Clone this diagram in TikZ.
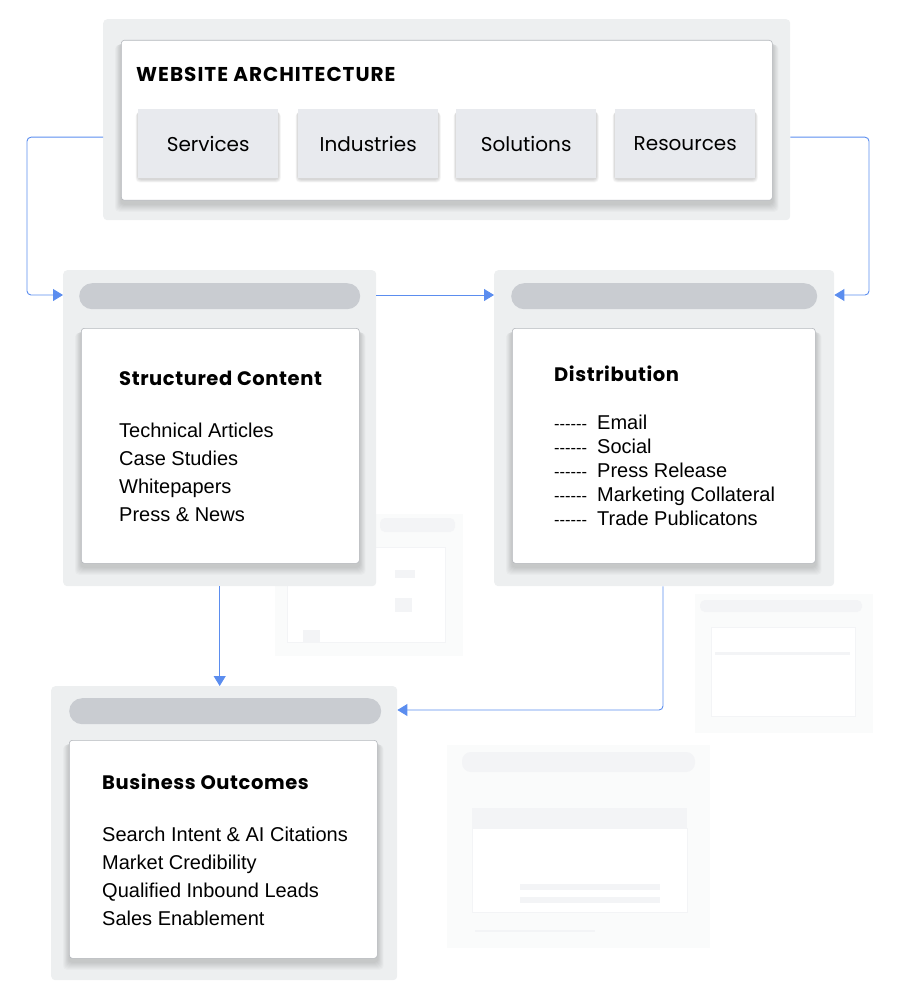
\documentclass[tikz,border=0pt]{standalone}
\usepackage{fontspec}
\setmainfont{Liberation Sans}
\newfontfamily\hfont{Poppins}
\usetikzlibrary{arrows.meta,calc}
\definecolor{panelgray}{HTML}{EDEFF0}
\definecolor{pillgray}{HTML}{C9CCD1}
\definecolor{tilegray}{HTML}{E8EAEE}
\definecolor{boxline}{HTML}{B4B7BC}
\definecolor{arrowblue}{HTML}{5B8DEF}
\definecolor{ghost}{HTML}{FAFBFB}
\definecolor{ghostline}{HTML}{F3F4F6}
\pgfdeclarelayer{panels}
\pgfdeclarelayer{shade}
\pgfdeclarelayer{tileshade}
\pgfdeclarelayer{tiles}
\pgfsetlayers{panels,shade,main,tileshade,tiles}
\newcommand{\dashes}{\makebox[43pt][l]{\fontsize{16.5}{20}\selectfont -{}-{}-{}-{}-{}-}}
\newcommand{\softshadow}[4]{% layer, node, spread, drop
  \begin{pgfonlayer}{#1}
  \foreach \k in {1,...,8}{
    \fill[black,opacity=0.018,rounded corners=4pt]
      ($(#2.north west)+(-#3*\k/8,#4*0.3+\k*0.3)$) rectangle ($(#2.south east)+(#3*\k/8,#4*0.4+#4*\k/8)$);
  }
  \end{pgfonlayer}}
\begin{document}
\begin{tikzpicture}[x=1pt,y=-1pt,
  panel/.style={draw=none,fill=panelgray,rounded corners=4pt,anchor=north west,inner sep=0pt},
  pill/.style={draw=none,fill=pillgray,rounded corners=13pt,anchor=north west,inner sep=0pt,minimum height=26pt},
  card/.style={draw=boxline,line width=0.6pt,fill=white,rounded corners=3pt,anchor=north west,inner sep=0pt},
  tile/.style={draw=none,fill=tilegray,anchor=north west,inner sep=0pt,minimum width=140pt,minimum height=69pt,
    font=\hfont\fontsize{20}{22}\selectfont},
  head/.style={anchor=base west,inner sep=0pt,font=\hfont\bfseries\fontsize{19.5}{22}\selectfont\addfontfeature{LetterSpace=3}},
  item/.style={anchor=base west,inner sep=0pt,font=\fontsize{20}{24}\selectfont},
  conn/.style={draw=arrowblue,line width=0.9pt,rounded corners=4pt,-{Triangle[length=10pt,width=12pt]}},
]
\useasboundingbox (0,0) rectangle (900,1000);

% faint background mockups
\begin{pgfonlayer}{panels}
\fill[ghost] (275,514) rectangle (463,656);
\fill[ghostline,rounded corners=5pt] (380,518) rectangle (455,532);
\draw[ghostline,fill=white] (287,547) rectangle (445,642);
\fill[ghostline] (303,630) rectangle (320,642);
\fill[ghostline] (395,570) rectangle (415,578);
\fill[ghostline] (395,598) rectangle (412,612);
\fill[ghost] (695,594) rectangle (873,733);
\fill[ghostline,rounded corners=5pt] (700,600) rectangle (862,612);
\draw[ghostline,fill=white] (711,627) rectangle (855,716);
\fill[ghostline] (715,652) rectangle (850,655);
\fill[ghost] (447,745) rectangle (710,948);
\fill[ghostline,rounded corners=9pt] (462,752) rectangle (695,772);
\fill[ghostline] (472,808) rectangle (687,828);
\draw[ghostline,fill=white] (472,828) rectangle (687,912);
\fill[ghostline] (520,884) rectangle (660,890);
\fill[ghostline] (520,897) rectangle (660,903);
\fill[ghostline] (475,930) rectangle (595,932);
\end{pgfonlayer}

% outer panels
\begin{pgfonlayer}{panels}
\node[panel,minimum width=687pt,minimum height=201pt] (top) at (103,19) {};
\node[panel,minimum width=313pt,minimum height=316pt] (sc) at (63,270) {};
\node[panel,minimum width=340pt,minimum height=316pt] (ds) at (494,270) {};
\node[panel,minimum width=346pt,minimum height=294pt] (bo) at (51,686) {};
\end{pgfonlayer}

% website architecture
\node[card,minimum width=651pt,minimum height=160pt] (topcard) at (121,40) {};
\softshadow{shade}{topcard}{6}{8}
\node[head,font=\hfont\bfseries\fontsize{20}{22}\selectfont\addfontfeature{LetterSpace=5}] (toptitle) at (136,82) {WEBSITE ARCHITECTURE};
\begin{pgfonlayer}{tiles}
\node[tile] (svc) at (138,109) {Services};
\node[tile] (ind) at (298,109) {Industries};
\node[tile] (sol) at (456,109) {Solutions};
\node[tile] (res) at (615,109) {Resources};
\end{pgfonlayer}
\foreach \t in {svc,ind,sol,res}{\softshadow{tileshade}{\t}{2.5}{3}}

% structured content
\node[pill,minimum width=281pt] (scp) at (79,283) {};
\node[card,minimum width=278pt,minimum height=235pt] (sccard) at (81,328) {};
\softshadow{shade}{sccard}{6}{8}
\node[head] (sct) at (119,385) {Structured Content};
\node[item] (sc1) at (119,437) {Technical Articles};
\node[item] (sc2) at (119,465) {Case Studies};
\node[item] (sc3) at (119,493) {Whitepapers};
\node[item] (sc4) at (119,521) {Press \& News};

% distribution
\node[pill,minimum width=306pt] (dsp) at (511,283) {};
\node[card,minimum width=303pt,minimum height=235pt] (dscard) at (512,328) {};
\softshadow{shade}{dscard}{6}{8}
\node[head] (dst) at (554,381.5) {Distribution};
\node[item] (ds1) at (554,429) {\dashes Email};
\node[item] (ds2) at (554,453) {\dashes Social};
\node[item] (ds3) at (554,477) {\dashes Press Release};
\node[item] (ds4) at (554,501) {\dashes Marketing Collateral};
\node[item] (ds5) at (554,525.5) {\dashes Trade Publicatons};

% business outcomes
\node[pill,minimum width=312pt] (bop) at (69,698) {};
\node[card,minimum width=308pt,minimum height=218pt] (bocard) at (69,740) {};
\softshadow{shade}{bocard}{6}{8}
\node[head] (bot) at (102,789) {Business Outcomes};
\node[item] (bo1) at (102,841) {Search Intent \& AI Citations};
\node[item] (bo2) at (102,869.5) {Market Credibility};
\node[item] (bo3) at (102,897) {Qualified Inbound Leads};
\node[item] (bo4) at (102,925.5) {Sales Enablement};

% connectors
\coordinate (lturn) at (27,295);
\coordinate (rturn) at (869,295);
\draw[conn] ([yshift=-17.5pt]top.west) -| (lturn) -- (sc.west |- lturn);
\draw[conn] ([yshift=-17.5pt]top.east) -| (rturn) -- (ds.east |- rturn);
\draw[conn] (sc.east |- lturn) -- (ds.west |- lturn);
\draw[conn] (sc.south) -- (sc.south |- bo.north);
\coordinate (bturn) at (663,710);
\draw[conn] (ds.south -| bturn) -- (bturn) -- (bo.east |- bturn);
\end{tikzpicture}
\end{document}
